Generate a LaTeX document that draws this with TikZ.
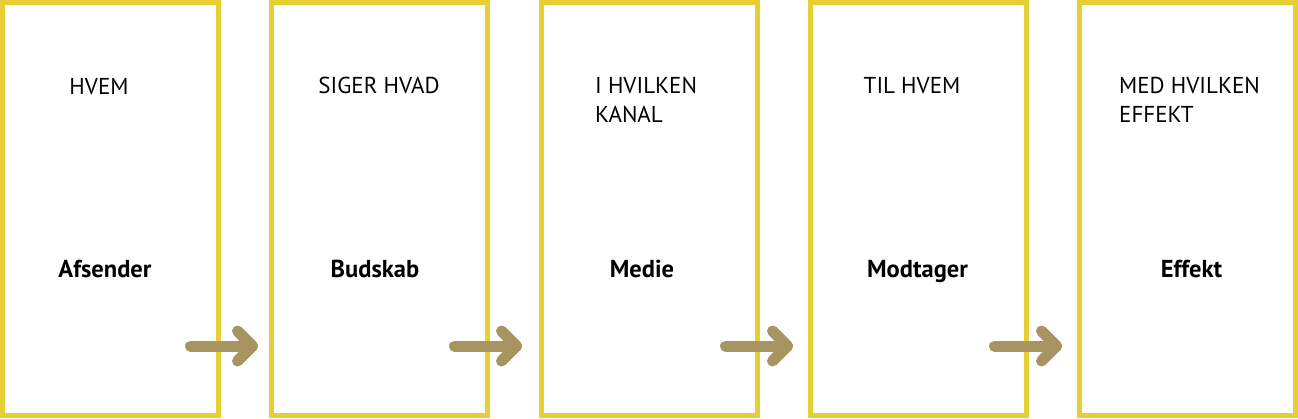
\documentclass[tikz,border=0pt]{standalone}
\usepackage{fontspec}
\setmainfont{PT Sans}
\definecolor{boxyellow}{RGB}{229,207,50}
\definecolor{arrowtan}{RGB}{168,148,97}
\begin{document}
\begin{tikzpicture}[x=1pt,y=-1pt,
  stage/.style={draw=boxyellow, line width=5pt, minimum width=216pt, minimum height=413pt, inner sep=0pt, outer sep=0pt},
  toplabel/.style={inner sep=0pt, font=\fontsize{23}{29}\selectfont, align=left},
  mainlabel/.style={inner sep=0pt, font=\fontsize{24.5}{29}\selectfont\bfseries},
  flow/.style={draw=arrowtan, line width=11pt, line cap=round, line join=round}]
\useasboundingbox (0,0) rectangle (1298,418);
% boxes
\node[stage] (b1) at (110.5,209) {};
\node[stage] (b2) at (379.5,209) {};
\node[stage] (b3) at (649,209) {};
\node[stage] (b4) at (918,209) {};
\node[stage] (b5) at (1187.5,209) {};
% top labels
\node[toplabel, anchor=base] (q1) at (99,94) {HVEM};
\node[toplabel, anchor=base] (q2) at (379,93) {SIGER HVAD};
\node[toplabel, anchor=north west] (q3) at (595,77) {I HVILKEN\\KANAL};
\node[toplabel, anchor=base] (q4) at (912,93) {TIL HVEM};
\node[toplabel, anchor=north west] (q5) at (1119,77) {MED HVILKEN\\EFFEKT};
% main labels
\node[mainlabel, anchor=base] (m1) at (105,277) {Afsender};
\node[mainlabel, anchor=base] (m2) at (375,277) {Budskab};
\node[mainlabel, anchor=base] (m3) at (642,277) {Medie};
\node[mainlabel, anchor=base] (m4) at (917.5,277) {Modtager};
\node[mainlabel, anchor=base] (m5) at (1191.5,277) {Effekt};
% arrows
\foreach \i/\t in {1/258,2/522,3/793,4/1062}{
  \coordinate (s\i) at (\t-67.5,346);
  \coordinate (e\i) at (\t-5.5,346);
}
\foreach \i in {1,2,3,4}{
  \draw[flow] (s\i) -- (e\i);
  \draw[flow] ([shift={(-15,-15)}]e\i) -- (e\i) -- ([shift={(-15,15)}]e\i);
}
\end{tikzpicture}
\end{document}
